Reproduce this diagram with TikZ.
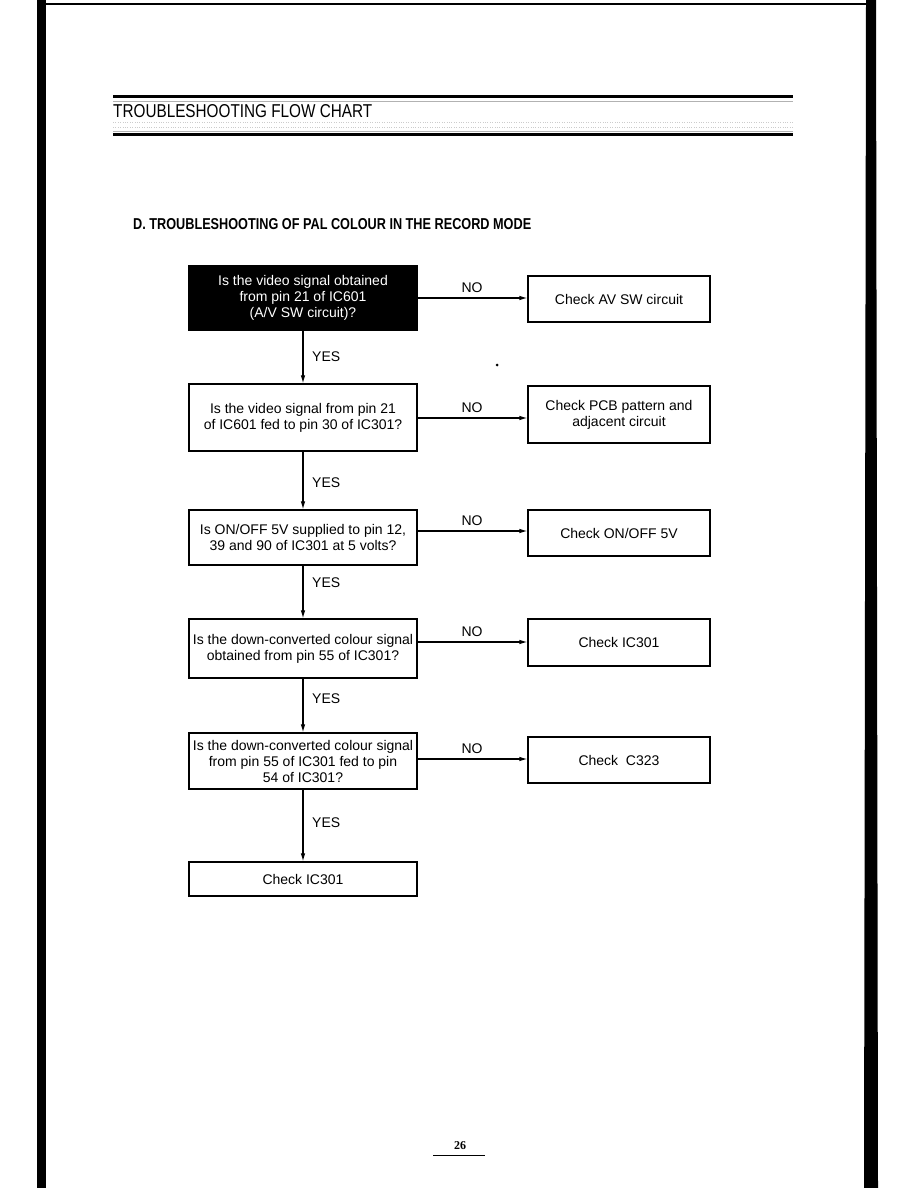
\documentclass[tikz,border=0pt]{standalone}
\usepackage{fontspec}
\setmainfont{Liberation Sans}
\newfontfamily\pagefont{Liberation Serif}
\usetikzlibrary{arrows.meta,calc}
\begin{document}
\begin{tikzpicture}[x=1pt,y=-1pt,
  txt/.style={font=\fontsize{14}{16}\selectfont},
  qbox/.style={draw, line width=1.2pt, minimum width=228pt, align=center, inner sep=0pt, txt},
  rbox/.style={draw, line width=1.2pt, minimum width=182pt, align=center, inner sep=0pt, txt},
  arr/.style={line width=1.1pt, -{Latex[length=8pt,width=4.5pt]}},
  lab/.style={txt, inner sep=0pt}]
\useasboundingbox (0,0) rectangle (918,1188);
% page edges
\fill (37,0) rectangle (46,1188);
\fill (866,0) -- (876,0) -- (878,1188) -- (864,1188) -- cycle;
\draw[line width=1.5pt] (46,4) -- (866,4);
% header
\draw[line width=3pt] (113,97) -- (793,97);
\draw[line width=0.4pt, gray!60] (113,101) -- (793,101);
\draw[line width=0.4pt, gray!40, dotted] (113,122) -- (793,122);
\draw[line width=0.4pt, gray!40, dotted] (113,127) -- (793,127);
\draw[line width=0.4pt, gray!60] (113,131) -- (793,131);
\draw[line width=3pt] (113,135) -- (793,135);
\node[anchor=west, inner sep=0pt] (hdr) at (113,111.5) {\resizebox{259pt}{13pt}{TROUBLESHOOTING FLOW CHART}};
% title
\node[anchor=west, inner sep=0pt] (title) at (133,224) {\resizebox{398pt}{11pt}{\bfseries D. TROUBLESHOOTING OF PAL COLOUR IN THE RECORD MODE}};
% left boxes
\node[qbox, fill=black, text=white, minimum height=64pt] (b1) at (303,298) {Is the video signal obtained\\from pin 21 of IC601\\(A/V SW circuit)?};
\node[qbox, minimum height=67pt] (b2) at (303,417.5) {Is the video signal from pin 21\\of IC601 fed to pin 30 of IC301?};
\node[qbox, minimum height=55pt] (b3) at (303,537.5) {Is ON/OFF 5V supplied to pin 12,\\39 and 90 of IC301 at 5 volts?};
\node[qbox, minimum height=59pt] (b4) at (303,648.5) {Is the down-converted colour signal\\obtained from pin 55 of IC301?};
\node[qbox, minimum height=56pt] (b5) at (303,761) {Is the down-converted colour signal\\from pin 55 of IC301 fed to pin\\54 of IC301?};
\node[qbox, minimum height=34pt] (b6) at (303,879) {Check IC301};
% right boxes
\node[rbox, minimum height=46pt] (r1) at (619,299) {Check AV SW circuit};
\node[rbox, minimum height=57pt] (r2) at (619,414.5) {Check PCB pattern and\\adjacent circuit};
\node[rbox, minimum height=46pt] (r3) at (619,533) {Check ON/OFF 5V};
\node[rbox, minimum height=47pt] (r4) at (619,642.5) {Check IC301};
\node[rbox, minimum height=46pt] (r5) at (619,760) {Check\ \ C323};
% NO arrows
\foreach \i/\y in {1/298,2/418,3/531,4/642,5/759}{
  \coordinate (ny\i) at (0,\y);
  \draw[arr] (b\i.east |- ny\i) -- (r\i.west |- ny\i);
  \node[lab] (no\i) at (472,\y-10.5) {NO};
}
% YES arrows
\foreach \i/\j/\y in {1/2/357,2/3/483,3/4/583,4/5/699,5/6/823}{
  \draw[arr] (b\i.south) -- (b\j.north);
  \node[lab, anchor=west] (yes\i) at (312,\y) {YES};
}
% speck
\fill (497,365) circle (1.5pt);
% page number
\node[inner sep=0pt, font=\pagefont\bfseries\fontsize{12}{14}\selectfont] (pg) at (460,1146) {26};
\coordinate (ul1) at (433,1155);
\coordinate (ul2) at (485,1155);
\draw[line width=1pt] (ul1) -- (ul2);
\end{tikzpicture}
\end{document}
